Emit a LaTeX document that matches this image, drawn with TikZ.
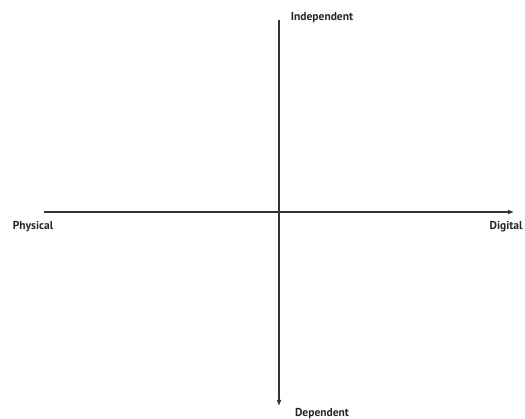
\documentclass[tikz,border=0pt]{standalone}
\usepackage{fontspec}
\setmainfont{PT Sans}
\usetikzlibrary{arrows.meta,positioning}

\begin{document}
\begin{tikzpicture}[x=1pt,y=-1pt,>={Latex[length=6pt,width=5pt]},
  axislbl/.style={font=\bfseries\fontsize{11.5}{13}\selectfont,text=black!85,inner sep=0pt},
  axisline/.style={draw=black!80,line width=1.2pt}]
\useasboundingbox (0,0) rectangle (525,419);
% axis ends
\coordinate (west) at (44,212);
\coordinate (east) at (514,212);
\coordinate (north) at (279,20);
\coordinate (south) at (279,406);
\draw[axisline,->] (west) -- (east);
\draw[axisline,->] (north) -- (south);
% labels
\node[axislbl] (phys) at (33,227) {Physical};
\node[axislbl] (digi) at (506,227) {Digital};
\node[axislbl] (indep) at (322,18) {Independent};
\node[axislbl] (dep) at (322,414) {Dependent};
\end{tikzpicture}
\end{document}
